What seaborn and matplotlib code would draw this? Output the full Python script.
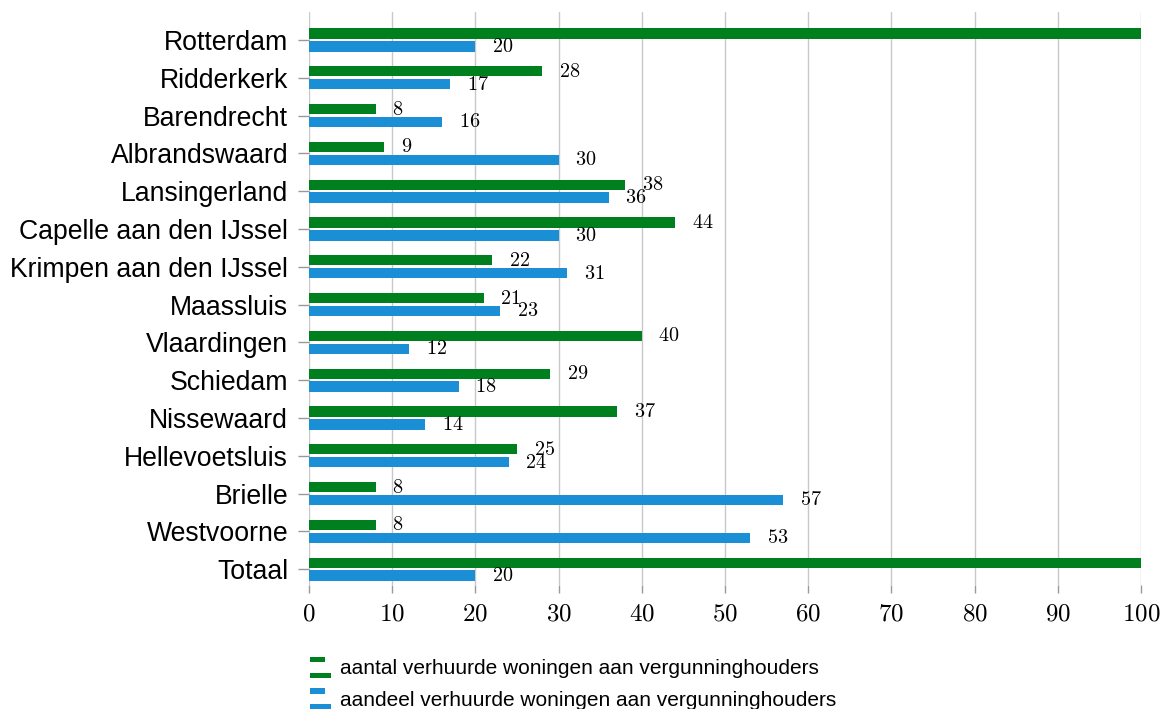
import numpy as np
import pandas as pd
import seaborn as sns
import matplotlib.pyplot as plt
from matplotlib.patches import Rectangle
from matplotlib.legend_handler import HandlerBase
from matplotlib.ticker import FuncFormatter

gemeenten = ['Rotterdam', 'Ridderkerk', 'Barendrecht', 'Albrandswaard', 'Lansingerland',
             'Capelle aan den IJssel', 'Krimpen aan den IJssel', 'Maassluis', 'Vlaardingen',
             'Schiedam', 'Nissewaard', 'Hellevoetsluis', 'Brielle', 'Westvoorne', 'Totaal']
# Rotterdam and Totaal run off the axis in the picture, exact value unreadable
aantal = [160, 28, 8, 9, 38, 44, 22, 21, 40, 29, 37, 25, 8, 8, 400]
aandeel = [20, 17, 16, 30, 36, 30, 31, 23, 12, 18, 14, 24, 57, 53, 20]
reeksen = ['aantal verhuurde woningen aan vergunninghouders',
           'aandeel verhuurde woningen aan vergunninghouders']
kleuren = ['#007f1f', '#1b8fd6']

df = pd.DataFrame({'gemeente': gemeenten * 2,
                   'waarde': aantal + aandeel,
                   'reeks': [reeksen[0]] * len(gemeenten) + [reeksen[1]] * len(gemeenten)})

sns.set_style('white')
plt.rcParams['font.family'] = ['Liberation Sans', 'DejaVu Sans']
plt.rcParams['mathtext.fontset'] = 'cm'
plt.rcParams['text.color'] = 'black'
plt.rcParams['xtick.color'] = '#999999'
plt.rcParams['ytick.color'] = '#999999'
plt.rcParams['xtick.labelcolor'] = 'black'
plt.rcParams['ytick.labelcolor'] = 'black'

fig = plt.figure(figsize=(11.62, 7.09), dpi=100)
ax = fig.add_axes([309 / 1162, 1 - 585 / 709, (1141 - 309) / 1162, (585 - 12) / 709])

sns.barplot(data=df, y='gemeente', x='waarde', hue='reeks', orient='h', saturation=1,
            palette=kleuren, width=0.68, gap=0.2, linewidth=0, ax=ax, legend=False)

ax.set_xlim(0, 100)
ax.set_ylim(14.42, -0.74)
ax.set_xticks(np.arange(0, 101, 10))
ax.xaxis.set_major_formatter(FuncFormatter(lambda v, p: f'${v:g}$'))
ax.tick_params(axis='x', bottom=True, labelsize=18, length=6, width=1, pad=6)
ax.tick_params(axis='y', left=True, labelsize=19.2, length=8, width=1, pad=7)
ax.grid(axis='x', color='#c8c8c8', lw=1)
ax.set_axisbelow(True)
for s in ax.spines.values():
    s.set_visible(False)
ax.set_xlabel('')
ax.set_ylabel('')

for cont in ax.containers:
    for bar in cont:
        w = bar.get_width()
        if w <= 100:
            ax.annotate(f'${w:g}$', (w, bar.get_y() + bar.get_height() / 2),
                        xytext=(12, 0), textcoords='offset points',
                        va='center', ha='left', fontsize=14.5)


class TweeBalken(HandlerBase):
    def create_artists(self, legend, orig, xd, yd, w, h, fontsize, trans):
        c = orig.get_facecolor()
        r1 = Rectangle((xd, yd + h * 0.85), w * 0.72, h * 0.35, fc=c, lw=0, transform=trans)
        r2 = Rectangle((xd, yd - h * 0.25), w, h * 0.35, fc=c, lw=0, transform=trans)
        return [r1, r2]


handles = [Rectangle((0, 0), 1, 1, fc=k) for k in kleuren]
fig.legend(handles, reeksen, loc='upper left', bbox_to_anchor=(310 / 1162, 1 - 659 / 709),
           frameon=False, fontsize=15, handlelength=1.0, handletextpad=0.45,
           labelspacing=0.62, borderpad=0, borderaxespad=0,
           handler_map={Rectangle: TweeBalken()})

fig.savefig('out.png', dpi=100)
